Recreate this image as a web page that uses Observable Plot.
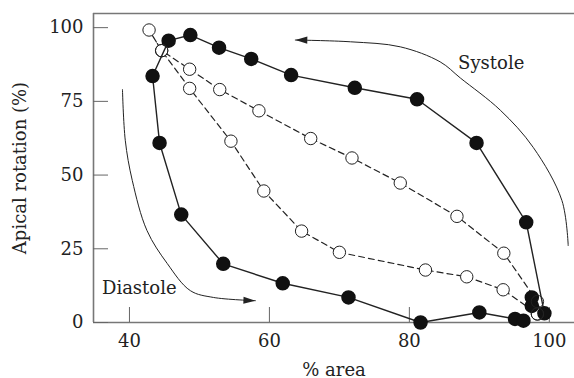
<!DOCTYPE html>
<html><head><meta charset="utf-8">
<script src="https://cdn.jsdelivr.net/npm/d3@7"></script>
<script src="https://cdn.jsdelivr.net/npm/@observablehq/plot@0.6"></script>
<style>body{margin:0;background:#fff} svg{display:block}</style>
</head><body><div id="chart"></div>
<script>
// Filled circles (solid loop)
const filledArea = [97.5, 97.5, 99.3, 96.7, 89.6, 81.1, 72.2, 63.1, 57.4, 52.8, 48.7, 45.6, 43.3, 44.3, 47.4, 53.4, 61.9, 71.3, 81.6, 90.0, 95.1, 96.3];
const filledRot  = [5.6, 8.5, 3.1, 34.0, 60.9, 75.7, 79.6, 83.9, 89.4, 93.2, 97.5, 95.6, 83.6, 60.9, 36.6, 19.9, 13.3, 8.5, 0.0, 3.4, 1.2, 0.6];
// Open circles (dashed loop)
const openArea = [98.3, 98.3, 93.5, 86.8, 78.7, 71.8, 65.9, 58.5, 52.9, 48.6, 44.6, 42.8, 44.6, 48.6, 54.5, 59.2, 64.6, 70.0, 82.3, 88.2, 93.4, 98.3];
const openRot  = [2.9, 7.1, 23.5, 36.0, 47.3, 55.8, 62.4, 71.8, 79.0, 85.9, 92.2, 99.2, 92.2, 79.4, 61.5, 44.6, 31.0, 23.8, 17.8, 15.5, 11.1, 2.9];
// Annotation arcs
const systoleArcX = [102.7, 101.8, 97.7, 93.0, 87.3, 84.4, 78.7, 71.6, 63.7];
const systoleArcY = [26.1, 41.4, 59.4, 72.0, 82.9, 88.4, 93.5, 95.2, 95.8];
const diastoleArcX = [39.0, 39.4, 40.4, 42.5, 45.4, 48.7, 52.0, 58.0];
const diastoleArcY = [79.0, 61.8, 48.2, 31.2, 20.0, 10.8, 8.5, 7.4];
const labels = ["Systole", "Diastole"];
const labelX = [91.7, 41.4];
const labelY = [88.1, 11.5];
const xTicks = [40, 60, 80, 100];
const yTicks = [0, 25, 50, 75, 100];
const xDomain = [34.86, 103.6];
const yDomain = [0, 104.8];

const zip = (xs, ys) => xs.map((x, i) => ({x, y: ys[i]}));
const filled = zip(filledArea, filledRot);
const open = zip(openArea, openRot);
const sysArc = zip(systoleArcX, systoleArcY);
const diaArc = zip(diastoleArcX, diastoleArcY);
const labs = labels.map((t, i) => ({t, x: labelX[i], y: labelY[i]}));

function triangle(color, context) {
  const m = d3.create("svg:marker")
    .attr("viewBox", "-12 -6 13 12")
    .attr("markerUnits", "userSpaceOnUse")
    .attr("markerWidth", 13)
    .attr("markerHeight", 12)
    .attr("refX", 0).attr("refY", 0)
    .attr("orient", "auto")
    .attr("overflow", "visible");
  m.append("path").attr("d", "M-12,-3.6L0,0L-12,3.6Z").attr("fill", color).attr("stroke", "none");
  return m.node();
}

const font = "DejaVu Serif";
const ytl = 15 / ((322 - 13) / (yDomain[1] - yDomain[0])); // tick length in y units
const xtl = 15 / ((574 - 93) / (xDomain[1] - xDomain[0]));

const chart = Plot.plot({
  width: 574, height: 378,
  marginLeft: 93, marginRight: 0, marginTop: 13, marginBottom: 56,
  style: {fontFamily: font, fontSize: "18px", color: "#222", background: "#fff"},
  x: {domain: xDomain},
  y: {domain: yDomain},
  marks: [
    Plot.axisX(xTicks, {tickSize: 0, tickPadding: 12, label: "% area", labelAnchor: "center", labelArrow: "none", labelOffset: 53, fontSize: 18}),
    Plot.axisY(yTicks, {tickSize: 0, tickPadding: 10, label: "Apical rotation (%)", labelAnchor: "center", labelOffset: 80, labelArrow: "none", fontSize: 18}),
    // frame lines (top, left, bottom)
    Plot.ruleY([yDomain[0], yDomain[1]], {stroke: "#777", strokeWidth: 1.6}),
    Plot.ruleX([xDomain[0]], {stroke: "#777", strokeWidth: 1.6}),
    // inward ticks
    Plot.ruleX(xTicks, {y1: yDomain[0], y2: yDomain[0] + ytl, stroke: "#666", strokeWidth: 1}),
    Plot.ruleY(yTicks, {x1: xDomain[0], x2: xDomain[0] + xtl, stroke: "#666", strokeWidth: 1}),
    // annotation arrows
    Plot.line(sysArc, {x: "x", y: "y", curve: "catmull-rom", stroke: "#222", strokeWidth: 1, markerEnd: triangle}),
    Plot.line(diaArc, {x: "x", y: "y", curve: "catmull-rom", stroke: "#222", strokeWidth: 1, markerEnd: triangle}),
    Plot.text(labs, {x: "x", y: "y", text: "t", fontSize: 18, fill: "#222"}),
    // open series (line + white discs)
    Plot.line(open, {x: "x", y: "y", stroke: "#222", strokeWidth: 1.2, strokeDasharray: "6,4"}),
    Plot.dot(open, {x: "x", y: "y", r: 6.2, fill: "#fff", stroke: "none"}),
    // filled series
    Plot.line(filled, {x: "x", y: "y", stroke: "#222", strokeWidth: 1.4}),
    Plot.dot(filled, {x: "x", y: "y", r: 6.5, fill: "#111", stroke: "#111"}),
    // open circle outlines on top
    Plot.dot(open, {x: "x", y: "y", r: 6.2, fill: "none", stroke: "#222", strokeWidth: 1})
  ]
});
document.getElementById("chart").appendChild(chart);
</script>
</body></html>
